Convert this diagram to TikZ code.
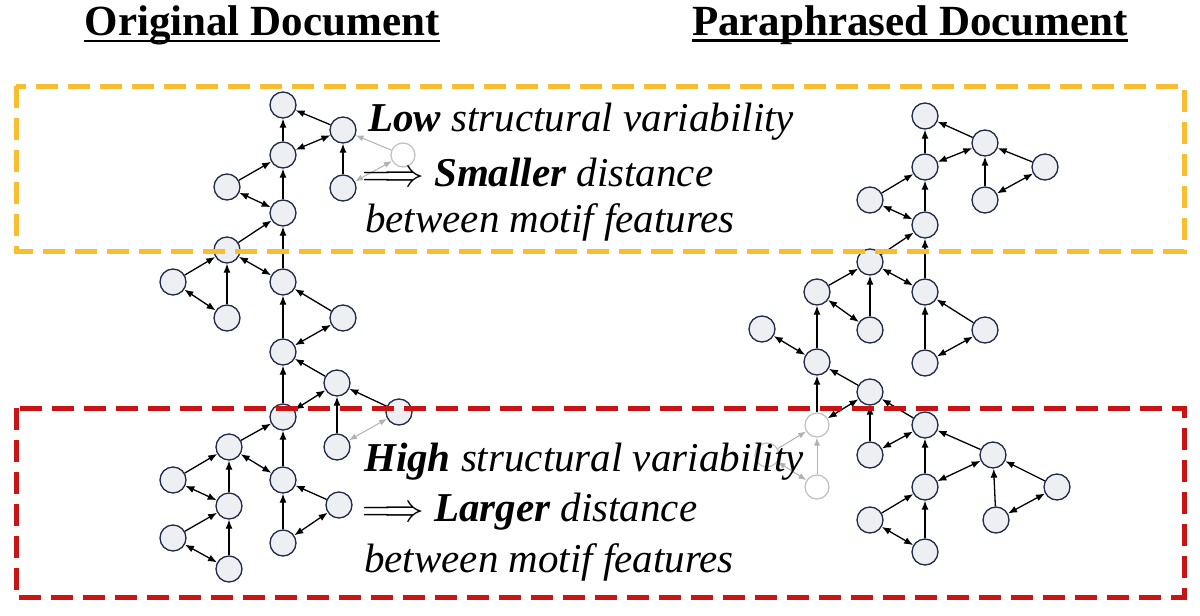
\documentclass[tikz,border=0pt]{standalone}
\usepackage{fontspec}
\setmainfont{Liberation Serif}
\usepackage{tikz}
\usetikzlibrary{arrows,arrows.meta,shapes,positioning,calc}
\definecolor{nodefill}{RGB}{238,239,243}
\definecolor{nodeline}{RGB}{30,42,70}
\definecolor{lowbox}{RGB}{248,190,50}
\definecolor{highbox}{RGB}{200,20,20}
\newcommand{\impl}{\upshape\scalebox{1.6}{$\Longrightarrow$}\itshape}
\tikzset{
  motif/.style={draw=nodeline, fill=nodefill, circle, inner sep=0pt, minimum size=26pt, line width=1.3pt},
  ghost/.style={draw=black!25, fill=white, circle, inner sep=0pt, minimum size=24pt, line width=1.2pt},
  dir/.style={-{Latex[length=9pt,width=7pt]}, line width=1.3pt},
  bidir/.style={{Latex[length=9pt,width=7pt]}-{Latex[length=9pt,width=7pt]}, line width=1.3pt},
  gdir/.style={-{Latex[length=8pt,width=6pt]}, line width=1pt, black!30},
  gbidir/.style={{Latex[length=8pt,width=6pt]}-{Latex[length=8pt,width=6pt]}, line width=1pt, black!30},
  title/.style={font=\fontsize{43}{46}\selectfont\bfseries, inner sep=0pt},
  note/.style={anchor=west, font=\fontsize{41}{44}\selectfont\itshape, inner sep=0pt}
}
\begin{document}
\begin{tikzpicture}[x=1pt,y=-1pt]
        \useasboundingbox (0,0) rectangle (1200,616);
        % titles
        \node[title] (t1) at (262,25) {Original Document};
        \node[title] (t2) at (910,25) {Paraphrased Document};
        \draw[line width=2.5pt] (t1.south west) ++(0,-4) coordinate (u1) -- (u1 -| t1.south east);
        \draw[line width=2.5pt] (t2.south west) ++(0,-4) coordinate (u2) -- (u2 -| t2.south east);
        % ghost nodes
        \node[ghost] (g1) at (403,155) {};
        \node[ghost] (g2) at (817,425) {};
        \node[ghost] (g3) at (817,487) {};
        \node[ghost] (g4) at (767,455) {};
        \draw (g4) edge[gdir] (g2);
        \draw (g4) edge[gbidir] (g3);
        \draw (g3) edge[gdir] (g2);
        % original document
        \node[motif] (a1) at (283,105) {};
        \node[motif] (a2) at (343,130) {};
        \node[motif] (a3) at (283,155) {};
        \node[motif] (a4) at (227,187) {};
        \node[motif] (a5) at (343,188) {};
        \node[motif] (a6) at (283,213) {};
        \node[motif] (a7) at (227,250) {};
        \node[motif] (a8) at (173,282) {};
        \node[motif] (a9) at (227,318) {};
        \node[motif] (a10) at (283,282) {};
        \node[motif] (a11) at (343,318) {};
        \node[motif] (a12) at (283,352) {};
        \node[motif] (a13) at (337,383) {};
        \node[motif] (a14) at (283,417) {};
        \node[motif] (a15) at (399,412) {};
        \node[motif] (a16) at (337,447) {};
        \node[motif] (a17) at (229,447) {};
        \node[motif] (a18) at (283,480) {};
        \node[motif] (a19) at (173,480) {};
        \node[motif] (a20) at (229,506) {};
        \node[motif] (a21) at (339,505) {};
        \node[motif] (a22) at (173,538) {};
        \node[motif] (a23) at (229,569) {};
        \node[motif] (a24) at (283,543) {};
        \draw (g1) edge[gdir] (a2);
        \draw (a3) edge[dir] (a1);
        \draw (a2) edge[dir] (a1);
        \draw (a3) edge[bidir] (a2);
        \draw (a4) edge[dir] (a3);
        \draw (a5) edge[dir] (a2);
        \draw (a5) edge[gbidir] (g1);
        \draw (a4) edge[bidir] (a6);
        \draw (a6) edge[dir] (a3);
        \draw (a7) edge[dir] (a6);
        \draw (a10) edge[dir] (a6);
        \draw (a7) edge[bidir] (a10);
        \draw (a8) edge[dir] (a7);
        \draw (a9) edge[dir] (a7);
        \draw (a8) edge[bidir] (a9);
        \draw (a11) edge[dir] (a10);
        \draw (a12) edge[bidir] (a11);
        \draw (a12) edge[dir] (a10);
        \draw (a13) edge[dir] (a12);
        \draw (a14) edge[bidir] (a13);
        \draw (a14) edge[dir] (a12);
        \draw (a15) edge[dir] (a13);
        \draw (a16) edge[dir] (a13);
        \draw (a16) edge[gbidir] (a15);
        \draw (a17) edge[dir] (a14);
        \draw (a17) edge[bidir] (a18);
        \draw (a18) edge[dir] (a14);
        \draw (a19) edge[dir] (a17);
        \draw (a20) edge[dir] (a17);
        \draw (a19) edge[bidir] (a20);
        \draw (a21) edge[dir] (a18);
        \draw (a24) edge[dir] (a18);
        \draw (a24) edge[bidir] (a21);
        \draw (a22) edge[dir] (a20);
        \draw (a23) edge[dir] (a20);
        \draw (a22) edge[bidir] (a23);
        % paraphrased document
        \node[motif] (b1) at (925,116) {};
        \node[motif] (b2) at (985,143) {};
        \node[motif] (b3) at (925,167) {};
        \node[motif] (b4) at (1045,167) {};
        \node[motif] (b5) at (870,200) {};
        \node[motif] (b6) at (985,200) {};
        \node[motif] (b7) at (925,225) {};
        \node[motif] (b8) at (870,262) {};
        \node[motif] (b9) at (817,292) {};
        \node[motif] (b10) at (870,330) {};
        \node[motif] (b11) at (925,292) {};
        \node[motif] (b12) at (985,330) {};
        \node[motif] (b13) at (762,329) {};
        \node[motif] (b14) at (817,362) {};
        \node[motif] (b15) at (925,363) {};
        \node[motif] (b16) at (870,392) {};
        \node[motif] (b17) at (870,455) {};
        \node[motif] (b18) at (925,425) {};
        \node[motif] (b19) at (993,455) {};
        \node[motif] (b20) at (925,487) {};
        \node[motif] (b21) at (1057,487) {};
        \node[motif] (b22) at (870,520) {};
        \node[motif] (b23) at (925,552) {};
        \node[motif] (b24) at (996,520) {};
        \draw (b3) edge[dir] (b1);
        \draw (b2) edge[dir] (b1);
        \draw (b3) edge[bidir] (b2);
        \draw (b4) edge[dir] (b2);
        \draw (b6) edge[dir] (b2);
        \draw (b6) edge[bidir] (b4);
        \draw (b5) edge[dir] (b3);
        \draw (b5) edge[bidir] (b7);
        \draw (b7) edge[dir] (b3);
        \draw (b8) edge[dir] (b7);
        \draw (b11) edge[dir] (b7);
        \draw (b9) edge[dir] (b8);
        \draw (b10) edge[dir] (b8);
        \draw (b9) edge[bidir] (b10);
        \draw (b8) edge[bidir] (b11);
        \draw (b12) edge[dir] (b11);
        \draw (b15) edge[bidir] (b12);
        \draw (b15) edge[dir] (b11);
        \draw (b13) edge[bidir] (b14);
        \draw (b14) edge[dir] (b9);
        \draw (b16) edge[dir] (b14);
        \draw (g2) edge[bidir] (b16);
        \draw (g2) edge[dir] (b14);
        \draw (b17) edge[dir] (b16);
        \draw (b18) edge[dir] (b16);
        \draw (b17) edge[bidir] (b18);
        \draw (b19) edge[dir] (b18);
        \draw (b20) edge[bidir] (b19);
        \draw (b20) edge[dir] (b18);
        \draw (b22) edge[dir] (b20);
        \draw (b23) edge[dir] (b20);
        \draw (b22) edge[bidir] (b23);
        \draw (b21) edge[dir] (b19);
        \draw (b24) edge[dir] (b19);
        \draw (b24) edge[bidir] (b21);
        % boxes
        \draw[lowbox, line width=5pt, dash pattern=on 22pt off 10pt] (16,86) rectangle (1184,251);
        \draw[highbox, line width=5pt, dash pattern=on 22pt off 10pt] (16,408) rectangle (1184,597);
        % notes
        \node[note] (n1) at (368,122) {\textbf{Low} structural variability};
        \node[note] (n2) at (362,172) {\impl{} \textbf{Smaller} distance};
        \node[note] (n3) at (365,222) {between motif features};
        \node[note] (n4) at (364,462) {\textbf{High} structural variability};
        \node[note] (n5) at (362,512) {\impl{} \textbf{Larger} distance};
        \node[note] (n6) at (364,562) {between motif features};
      \end{tikzpicture}
\end{document}
